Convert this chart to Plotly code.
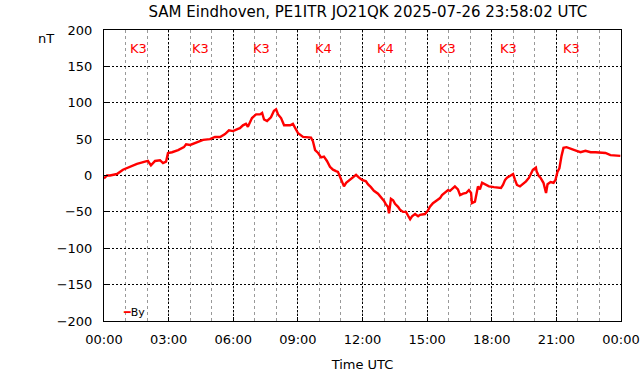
import plotly.graph_objects as go

# Data: hours since 00:00 UTC and By in nT
hours = [0.00,0.14,0.28,0.60,0.88,1.21,1.53,1.90,2.04,2.18,2.37,2.60,2.74,2.88,2.97,3.16,3.44,3.71,3.81,4.00,
         4.23,4.41,4.60,4.92,5.15,5.39,5.62,5.80,5.99,6.22,6.31,6.45,6.59,6.68,6.87,7.06,7.24,7.34,7.43,7.57,
         7.75,7.89,7.99,8.08,8.22,8.36,8.64,8.77,8.91,9.01,9.24,9.47,9.61,9.70,9.80,9.94,10.08,10.21,10.35,10.49,
         10.63,10.77,10.86,10.96,11.05,11.14,11.24,11.33,11.42,11.56,11.70,11.84,11.98,12.16,12.25,12.39,12.53,12.72,12.86,13.00,
         13.09,13.18,13.23,13.32,13.42,13.51,13.65,13.74,13.88,14.02,14.11,14.21,14.30,14.44,14.58,14.67,14.90,15.04,15.13,15.27,
         15.46,15.60,15.69,15.83,15.97,16.06,16.20,16.29,16.43,16.53,16.67,16.81,16.94,17.04,17.08,17.22,17.36,17.45,17.55,17.73,
         17.87,18.10,18.29,18.43,18.52,18.62,18.71,18.80,18.99,19.08,19.17,19.31,19.45,19.59,19.73,19.82,19.91,20.05,20.08,20.17,
         20.26,20.40,20.49,20.52,20.59,20.73,20.87,20.96,21.05,21.14,21.24,21.33,21.47,21.61,21.75,21.94,22.12,22.35,22.59,22.82,
         23.05,23.28,23.51,23.74,23.97]
by_nt = [-4,0,0,2,8,12,16,19,20,14,20,21,17,19,31,32,35,39,43,42,
         45,47,49,50,53,53,57,62,61,64,65,69,71,67,79,84,84,86,77,75,
         80,89,91,84,79,69,69,71,62,58,53,52,52,47,35,31,25,26,20,12,
         8,6,5,-2,-8,-15,-10,-8,-5,-2,1,-3,-6,-8,-12,-16,-21,-25,-30,-35,
         -40,-43,-52,-32,-34,-39,-43,-47,-50,-50,-55,-60,-56,-53,-56,-54,-53,-48,-43,-38,
         -34,-31,-27,-23,-20,-21,-17,-15,-19,-27,-25,-24,-20,-24,-38,-36,-15,-19,-10,-13,
         -15,-16,-17,-17,-13,-6,-3,-1,2,-6,-13,-15,-12,-8,-3,3,8,11,6,0,
         -3,-10,-20,-24,-12,-9,-10,-6,5,10,27,38,39,38,36,34,32,34,32,32,
         31,31,28,28,27]

k_hours = [1.60, 4.48, 7.33, 10.21, 13.05, 15.95, 18.80, 21.68]
k_labels = ["K3", "K3", "K3", "K4", "K4", "K3", "K3", "K3"]
k_level = 174

x_tickvals = [0, 3, 6, 9, 12, 15, 18, 21, 24]
x_ticktext = ["00:00", "03:00", "06:00", "09:00", "12:00", "15:00", "18:00", "21:00", "00:00"]
x_minorvals = list(range(0, 25))
y_tickvals = [200, 150, 100, 50, 0, -50, -100, -150, -200]

title_text = "SAM Eindhoven, PE1ITR JO21QK 2025-07-26 23:58:02 UTC"
FONT = "DejaVu Sans"

fig = go.Figure()
fig.add_trace(go.Scatter(x=hours, y=by_nt, mode="lines", name="By",
                         line=dict(color="#ff0000", width=2.4), showlegend=False))

for h, k in zip(k_hours, k_labels):
    fig.add_annotation(x=h, y=k_level, text=k, showarrow=False,
                       font=dict(family=FONT, size=13, color="#ff0000"),
                       xref="x", yref="y")

fig.add_annotation(xref="paper", yref="paper", x=0.033, y=0.03, xanchor="left", yanchor="middle",
                   text="<span style='color:#ff0000'>━</span>By", showarrow=False,
                   font=dict(family=FONT, size=11, color="black"))

fig.add_annotation(xref="paper", yref="paper", x=-0.112, y=0.97, xanchor="center", yanchor="middle",
                   text="nT", showarrow=False, font=dict(family=FONT, size=13, color="black"))

fig.update_layout(
    width=642, height=376,
    margin=dict(l=104, r=21, t=30, b=55, autoexpand=False),
    paper_bgcolor="white", plot_bgcolor="white",
    font=dict(family=FONT, size=13, color="black"),
    title=dict(text=title_text, x=0.573, xanchor="center", y=1 - 12/376, yanchor="middle",
               font=dict(family=FONT, size=15, color="black")),
)

fig.update_xaxes(range=[0, 24], tickmode="array", tickvals=x_tickvals, ticktext=x_ticktext,
                 showline=True, linecolor="black", linewidth=1, mirror=True,
                 ticks="inside", ticklen=4, tickcolor="black",
                 showgrid=True, gridcolor="black", gridwidth=1, griddash="2px,2px",
                 minor=dict(tickmode="array", tickvals=x_minorvals, showgrid=True,
                            gridcolor="#999999", griddash="3px,3px", gridwidth=1),
                 zeroline=False, ticklabelstandoff=6, automargin=False,
                 title=dict(text="Time UTC", font=dict(family=FONT, size=13), standoff=14))

fig.update_yaxes(range=[-200, 200], tickvals=y_tickvals,
                 showline=True, linecolor="black", linewidth=1, mirror=True,
                 ticks="inside", ticklen=4, tickcolor="black",
                 showgrid=True, gridcolor="black", gridwidth=1, griddash="2px,2px",
                 zeroline=False, ticklabelstandoff=8, automargin=False)

fig.write_html("out.html", config={"displayModeBar": False, "staticPlot": True},
               post_script="document.body.style.margin='0';document.body.style.overflow='hidden';")
